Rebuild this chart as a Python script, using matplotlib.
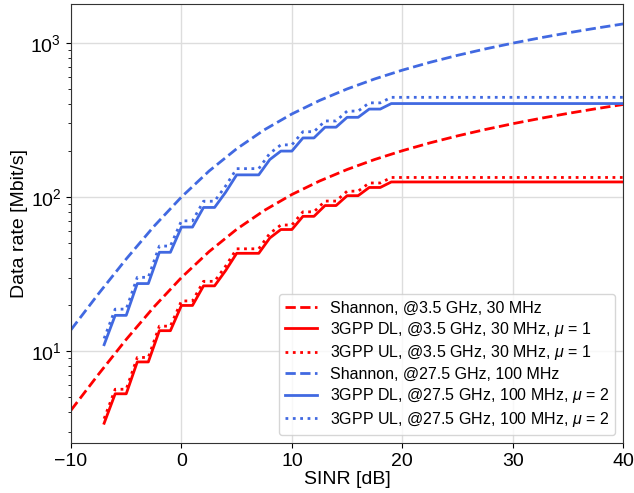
"""
Data rate vs SINR: Shannon bound and 3GPP approximation for two carriers.
"""

import matplotlib
matplotlib.use("Agg")
import matplotlib.pyplot as plt

plt.rcParams["font.family"] = ["Liberation Sans", "DejaVu Sans"]
plt.rcParams["mathtext.fontset"] = "custom"
plt.rcParams["mathtext.rm"] = "Liberation Sans"
plt.rcParams["mathtext.it"] = "Liberation Sans:italic"

# Shannon curves, sampled every 2.5 dB
sinr_shannon = [-10, -7.5, -5, -2.5, 0, 2.5, 5, 7.5, 10, 12.5, 15, 17.5,
                20, 22.5, 25, 27.5, 30, 32.5, 35, 37.5, 40]
shannon_35 = [4.13, 7.08, 11.9, 19.3, 30.0, 44.2, 61.7, 81.8, 103.8, 126.9,
              150.8, 175.2, 199.7, 224.5, 249.3, 274.1, 299.0, 323.9, 348.8,
              373.7, 398.6]
shannon_275 = [13.75, 23.6, 39.6, 64.4, 100.0, 147.4, 205.7, 272.8, 345.9,
               423.1, 502.8, 583.9, 665.8, 748.2, 830.9, 913.8, 996.7, 1079.7,
               1162.7, 1245.7, 1328.8]

# 3GPP approximation, sampled per dB (flat after 19 dB)
sinr_3gpp = list(range(-7, 20)) + [40]
dl_35 = [3.4, 5.28, 5.28, 8.5, 8.5, 13.56, 13.56, 19.77, 19.77, 26.5, 26.5,
         33.3, 43.1, 43.1, 43.1, 54.2, 61.5, 61.5, 74.9, 74.9, 88.0, 88.0,
         102.0, 102.0, 115.3, 115.3, 125.2, 125.2]
ul_35 = [3.64, 5.65, 5.65, 9.09, 9.09, 14.51, 14.51, 21.15, 21.15, 28.35,
         28.35, 35.6, 46.1, 46.1, 46.1, 58.0, 65.8, 65.8, 80.1, 80.1, 94.1,
         94.1, 109.1, 109.1, 123.3, 123.3, 133.9, 133.9]
dl_275 = [11.0, 17.05, 17.05, 27.42, 27.42, 43.76, 43.76, 63.79, 63.79,
          85.53, 85.53, 107.4, 139.2, 139.2, 139.2, 175.0, 198.6, 198.6,
          241.7, 241.7, 283.9, 283.9, 329.0, 329.0, 372.1, 372.1, 404.1, 404.1]
ul_275 = [12.07, 18.71, 18.71, 30.1, 30.1, 48.03, 48.03, 70.02, 70.02, 93.88,
          93.88, 117.9, 152.8, 152.8, 152.8, 192.1, 218.0, 218.0, 265.3, 265.3,
          311.6, 311.6, 361.1, 361.1, 408.4, 408.4, 443.5, 443.5]

fig, ax = plt.subplots(figsize=(6.34, 4.93), dpi=100)
fig.subplots_adjust(left=0.112, right=0.983, top=0.992, bottom=0.101)

lw = 2
ax.plot(sinr_shannon, shannon_35, "--", color="red", lw=lw,
        label="Shannon, @3.5 GHz, 30 MHz")
ax.plot(sinr_3gpp, dl_35, "-", color="red", lw=lw,
        label=r"3GPP DL, @3.5 GHz, 30 MHz, $\mu$ = 1")
ax.plot(sinr_3gpp, ul_35, ":", color="red", lw=lw,
        label=r"3GPP UL, @3.5 GHz, 30 MHz, $\mu$ = 1")
ax.plot(sinr_shannon, shannon_275, "--", color="royalblue", lw=lw,
        label="Shannon, @27.5 GHz, 100 MHz")
ax.plot(sinr_3gpp, dl_275, "-", color="royalblue", lw=lw,
        label=r"3GPP DL, @27.5 GHz, 100 MHz, $\mu$ = 2")
ax.plot(sinr_3gpp, ul_275, ":", color="royalblue", lw=lw,
        label=r"3GPP UL, @27.5 GHz, 100 MHz, $\mu$ = 2")

ax.set_yscale("log")
ax.set_xlim(-10, 40)
ax.grid(True, which="major", color="#dddddd", lw=1)
ax.set_axisbelow(True)
for sp in ax.spines.values():
    sp.set_color("#333333")

ax.tick_params(labelsize=14)
ax.set_xlabel("SINR [dB]", fontsize=14, labelpad=1)
ax.set_ylabel("Data rate [Mbit/s]", fontsize=14, labelpad=2)
ax.legend(loc="lower right", fontsize=11.5, labelspacing=0.28,
          borderaxespad=0.5)

fig.savefig("out.png", dpi=100)
